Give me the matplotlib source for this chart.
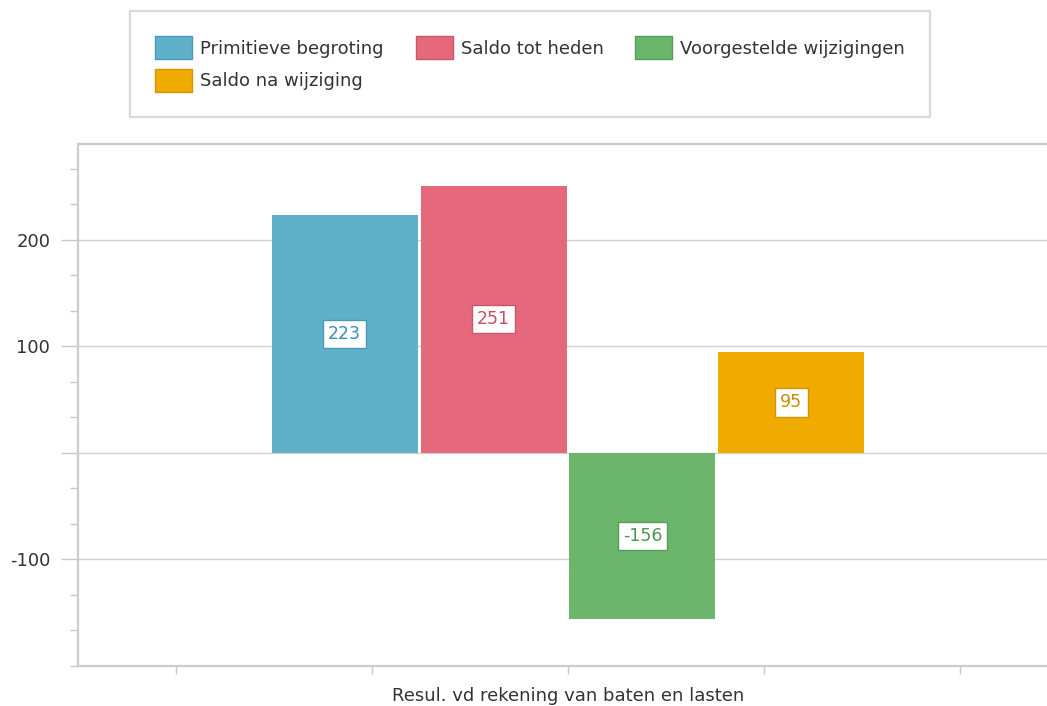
import matplotlib
matplotlib.use("Agg")
import matplotlib.pyplot as plt
from matplotlib.patches import Patch
from matplotlib.ticker import MultipleLocator, FixedLocator

# data
category = "Resul. vd rekening van baten en lasten"
series = ["Primitieve begroting", "Saldo tot heden", "Voorgestelde wijzigingen", "Saldo na wijziging"]
values = [223, 251, -156, 95]
colors = ["#5fb1cb", "#e5697b", "#6bb56c", "#f0ab00"]
edge_colors = ["#4a9ab5", "#c9566a", "#569d57", "#d49600"]
text_colors = ["#3c8fb0", "#c94d62", "#4f9450", "#c98a00"]

plt.rcParams['font.family'] = ['DejaVu Sans']

fig = plt.figure(figsize=(10.47, 7.06), dpi=100)
ax = fig.add_axes([0.0745, 0.0567, 0.936, 0.7393])

step = 0.76
width = 0.745
offsets = [(i - 1.5) * step for i in range(len(series))]

for i, name in enumerate(series):
    bars = ax.bar(offsets[i], values[i], width=width, color=colors[i], zorder=3, label=name)
    ax.bar_label(bars, labels=[str(values[i])], label_type="center", color=text_colors[i],
                 fontsize=12.5,
                 bbox=dict(boxstyle="square,pad=0.3", facecolor="white",
                           edgecolor=edge_colors[i], linewidth=1))

ax.set_xlim(-2.5, 2.5)
ax.set_ylim(-200, 290)
ax.yaxis.set_major_locator(FixedLocator([-100, 0, 100, 200]))
ax.yaxis.set_minor_locator(MultipleLocator(100 / 3))
ax.set_yticklabels(["-100", "", "100", "200"])
ax.set_xticks([-2, -1, 0, 1, 2])
ax.set_xticklabels(["", "", category, "", ""])

ax.grid(axis="y", which="major", color="#d0d0d0", linewidth=1, zorder=0)
for side in ["left", "bottom", "top", "right"]:
    ax.spines[side].set_color("#cccccc")
    ax.spines[side].set_linewidth(1.6)
ax.tick_params(axis="y", which="major", length=12, width=1, color="#c8c8c8",
               labelsize=13, labelcolor="#333333", pad=8)
ax.tick_params(axis="y", which="minor", length=6, width=1, color="#c8c8c8")
ax.tick_params(axis="x", length=6, width=1, color="#c8c8c8",
               labelsize=13, labelcolor="#333333", pad=9)

handles = [Patch(facecolor=colors[i], edgecolor=edge_colors[i], linewidth=1) for i in range(4)]
order = [0, 3, 1, 2]
leg = fig.legend([handles[i] for i in order], [series[i] for i in order],
                 loc="upper left", bbox_to_anchor=(130 / 1047, 1 - 11 / 706),
                 ncol=3, frameon=True, fancybox=False, fontsize=13,
                 handlelength=2.05, handleheight=1.6, handletextpad=0.45,
                 labelspacing=0.5, columnspacing=1.75, borderpad=1.4,
                 borderaxespad=0)
leg.get_frame().set_edgecolor("#d0d0d0")
leg.get_frame().set_linewidth(1.6)
for t in leg.get_texts():
    t.set_color("#333333")

fig.savefig("out.png", dpi=100)
